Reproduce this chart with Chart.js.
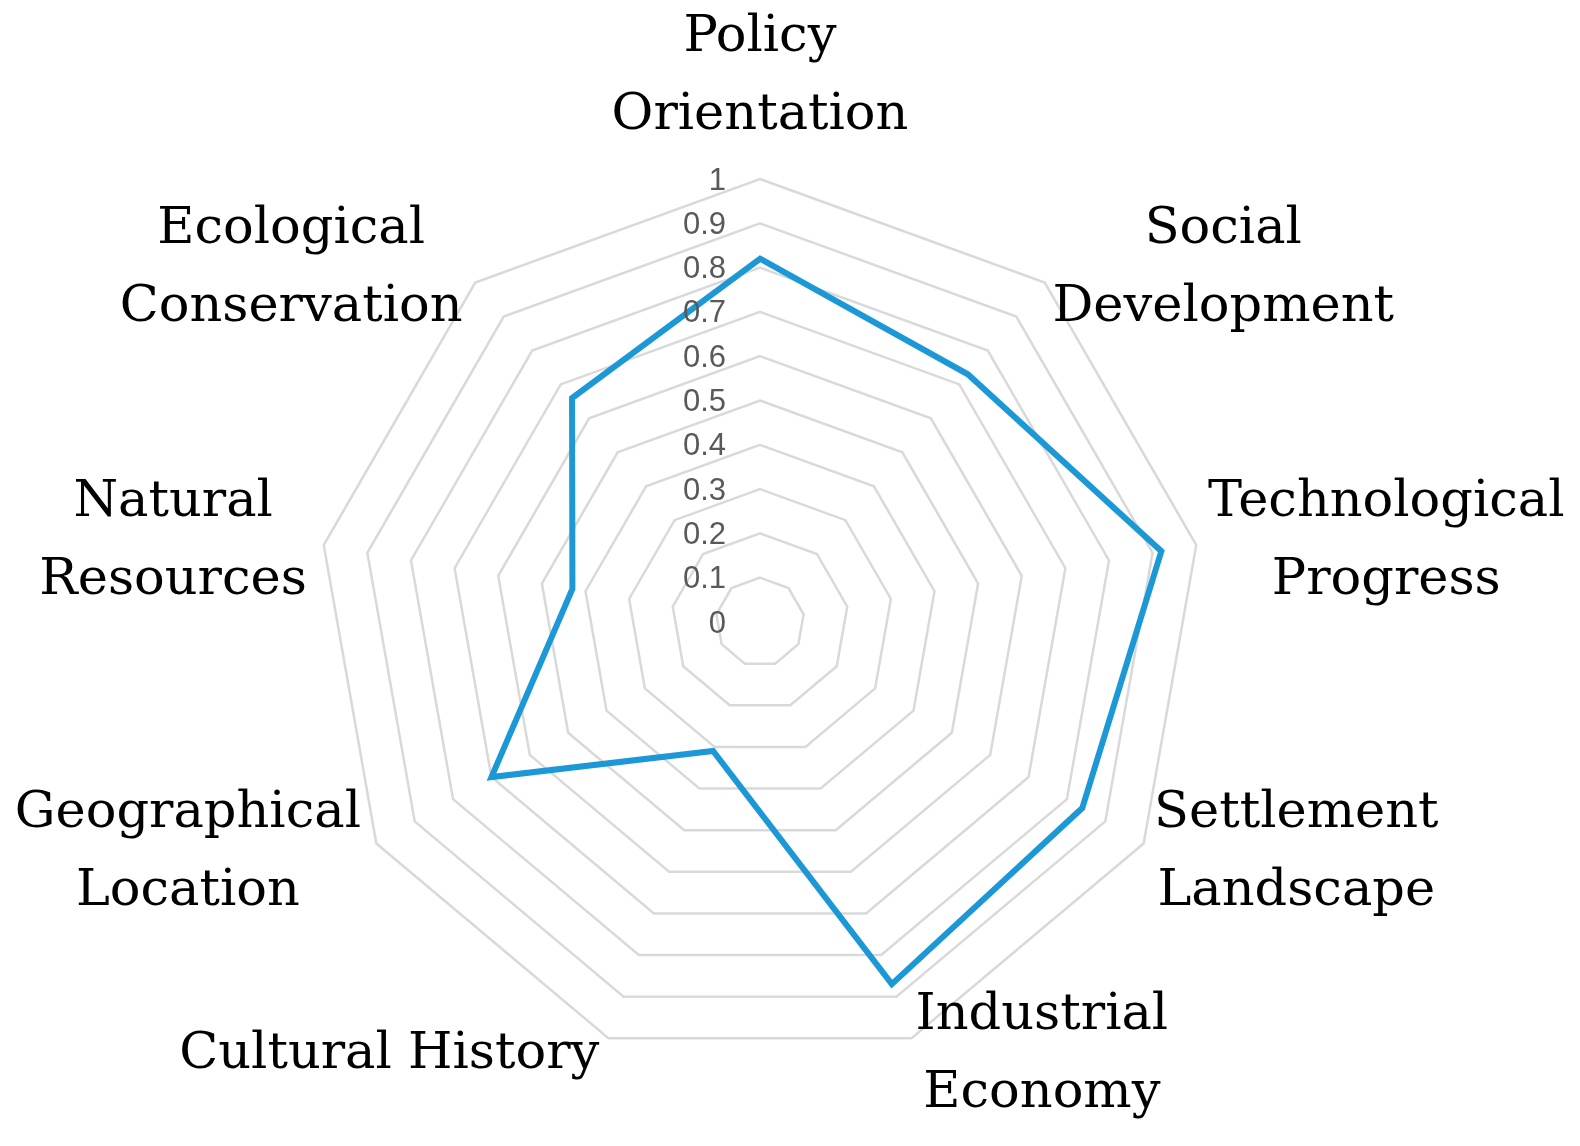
<!DOCTYPE html>
<html>
<head>
<meta charset="utf-8">
<script src="https://cdn.jsdelivr.net/npm/chart.js@4/dist/chart.umd.min.js"></script>
<style>
    html, body { margin: 0; padding: 0; background: #fff; }
    #wrap { width: 1580px; height: 1146px; }
</style>
</head>
<body>
<div id="wrap"><canvas id="radarChart" width="1580" height="1146"></canvas></div>
<script>
const categories = [
    ['Policy', 'Orientation'],
    ['Social', 'Development'],
    ['Technological', 'Progress'],
    ['Settlement', 'Landscape'],
    ['Industrial', 'Economy'],
    ['Cultural History'],
    ['Geographical', 'Location'],
    ['Natural', 'Resources'],
    ['Ecological', 'Conservation']
];
const scores = [0.82, 0.73, 0.92, 0.84, 0.87, 0.31, 0.70, 0.43, 0.66];
const tickValues = [0, 0.1, 0.2, 0.3, 0.4, 0.5, 0.6, 0.7, 0.8, 0.9, 1];

const labelFont = '51px "DejaVu Serif", serif';
const lineHeight = 78;

// tick labels sit just left of the vertical axis, right aligned
const tickLabelPlugin = {
    id: 'tickLabels',
    afterDatasetsDraw(chart) {
        const scale = chart.scales.r;
        const ctx = chart.ctx;
        ctx.save();
        ctx.font = '31px "Liberation Sans", sans-serif';
        ctx.fillStyle = '#595959';
        ctx.textAlign = 'right';
        ctx.textBaseline = 'middle';
        tickValues.forEach(v => {
            const d = scale.getDistanceFromCenterForValue(v);
            ctx.fillText(String(v), scale.xCenter - 34, scale.yCenter - d + 2);
        });
        ctx.restore();
    }
};

// category labels placed outside each spoke, lines centred in their block
const categoryLabelPlugin = {
    id: 'categoryLabels',
    afterDraw(chart) {
        const scale = chart.scales.r;
        const ctx = chart.ctx;
        ctx.save();
        ctx.font = labelFont;
        ctx.fillStyle = '#000';
        ctx.textAlign = 'center';
        ctx.textBaseline = 'middle';
        categories.forEach((lines, i) => {
            const p = scale.getPointPosition(i, scale.drawingArea + 12);
            const dx = p.x - scale.xCenter;
            const dy = p.y - scale.yCenter;
            const dist = Math.sqrt(dx * dx + dy * dy);
            const sin = dx / dist;
            const cos = -dy / dist;
            const w = Math.max(...lines.map(l => ctx.measureText(l).width));
            const h = lines.length * lineHeight;
            let cx, cy;
            if (sin > 0.1) {
                cx = p.x + w / 2;
            } else if (sin < -0.1) {
                cx = p.x - 5 - w / 2;
            } else {
                cx = p.x;
            }
            if (Math.abs(sin) <= 0.1) {
                cy = cos > 0 ? p.y - 12 - h / 2 : p.y + 12 + h / 2;
            } else {
                cy = p.y - 6 * cos;
            }
            lines.forEach((l, k) => {
                ctx.fillText(l, cx, cy - h / 2 + lineHeight * (k + 0.5));
            });
        });
        ctx.restore();
    }
};

const ctx = document.getElementById('radarChart').getContext('2d');
new Chart(ctx, {
    type: 'radar',
    data: {
        labels: categories,
        datasets: [{
            label: 'Score',
            data: scores,
            borderColor: '#1b98d5',
            backgroundColor: 'rgba(0,0,0,0)',
            borderWidth: 6,
            pointRadius: 0,
            pointHoverRadius: 0,
            fill: false,
            tension: 0
        }]
    },
    options: {
        responsive: false,
        animation: false,
        layout: {
            padding: { top: 179, bottom: 81, left: 317, right: 377 }
        },
        plugins: {
            legend: { display: false },
            tooltip: { enabled: false }
        },
        scales: {
            r: {
                min: 0,
                max: 1,
                ticks: { stepSize: 0.1, display: false },
                grid: { color: '#d9d9d9', lineWidth: 2.5 },
                angleLines: { display: false },
                pointLabels: { display: false }
            }
        }
    },
    plugins: [tickLabelPlugin, categoryLabelPlugin]
});
</script>
</body>
</html>
